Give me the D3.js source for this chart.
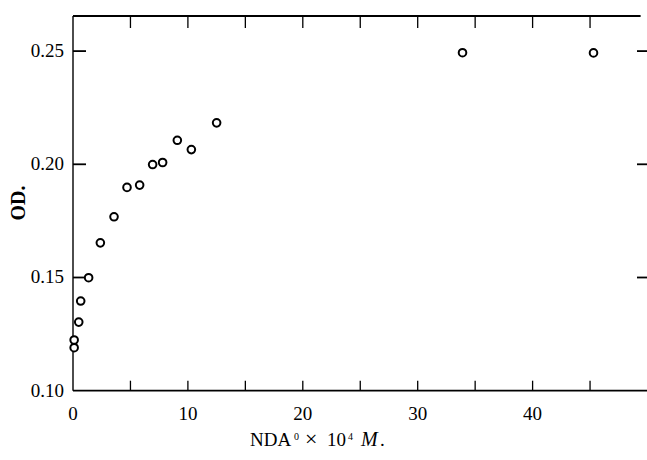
<!DOCTYPE html>
<html>
<head>
<meta charset="utf-8">
<script src="https://cdn.jsdelivr.net/npm/d3@7"></script>
<style>
  body { margin: 0; background: #fff; }
  svg { font-family: "Liberation Serif", "DejaVu Serif", serif; }
</style>
</head>
<body>
<svg id="chart" width="647" height="460"></svg>
<script>
// Data
var ndaConc = [0.1, 0.1, 0.5, 0.67, 1.36, 2.38, 3.57, 4.7, 5.8, 6.93, 7.8, 9.08, 10.3, 12.5, 33.9, 45.3];
var odValues = [0.1224, 0.119, 0.1303, 0.1396, 0.1499, 0.1653, 0.1768, 0.1898, 0.1908, 0.1999, 0.2008, 0.2106, 0.2065, 0.2183, 0.2493, 0.2492];
var xTickLabels = [0, 10, 20, 30, 40];
var xMinorTicks = [5, 10, 15, 20, 25, 30, 35, 40, 45];
var yTickLabels = [0.10, 0.15, 0.20, 0.25];

var svg = d3.select("#chart");

var x = d3.scaleLinear().domain([0, 50]).range([73, 647.5]);
var y = d3.scaleLinear().domain([0.10, 0.2655]).range([390.7, 16]);

var points = ndaConc.map(function (d, i) { return { x: d, y: odValues[i] }; });

// Frame lines: left, top, bottom (no right line)
svg.append("line")
  .attr("x1", x(0)).attr("x2", x(0))
  .attr("y1", y(0.2655)).attr("y2", y(0.10))
  .attr("stroke", "#000").attr("stroke-width", 1.4);

svg.append("line")
  .attr("x1", x(0)).attr("x2", x(49.4))
  .attr("y1", y(0.2655)).attr("y2", y(0.2655))
  .attr("stroke", "#000").attr("stroke-width", 1.8);

svg.append("line")
  .attr("x1", x(0)).attr("x2", x(50))
  .attr("y1", y(0.10)).attr("y2", y(0.10))
  .attr("stroke", "#000").attr("stroke-width", 1.8);

// Bottom ticks (inward) every 5
svg.append("g")
  .selectAll("line")
  .data(xMinorTicks)
  .enter()
  .append("line")
  .attr("x1", function (d) { return x(d); })
  .attr("x2", function (d) { return x(d); })
  .attr("y1", y(0.10))
  .attr("y2", y(0.10) - 10)
  .attr("stroke", "#000").attr("stroke-width", 1.3);

// Top ticks (inward) every 5
svg.append("g")
  .selectAll("line")
  .data(xMinorTicks)
  .enter()
  .append("line")
  .attr("x1", function (d) { return x(d); })
  .attr("x2", function (d) { return x(d); })
  .attr("y1", y(0.2655))
  .attr("y2", y(0.2655) + 12)
  .attr("stroke", "#000").attr("stroke-width", 1.3);

// Left ticks
svg.append("g")
  .selectAll("line")
  .data(yTickLabels.filter(function (d) { return d > 0.1; }))
  .enter()
  .append("line")
  .attr("x1", x(0))
  .attr("x2", x(0) + 13)
  .attr("y1", function (d) { return y(d); })
  .attr("y2", function (d) { return y(d); })
  .attr("stroke", "#000").attr("stroke-width", 1.8);

// Right ticks (no axis line)
svg.append("g")
  .selectAll("line")
  .data(yTickLabels.filter(function (d) { return d > 0.1; }))
  .enter()
  .append("line")
  .attr("x1", 637)
  .attr("x2", 647)
  .attr("y1", function (d) { return y(d); })
  .attr("y2", function (d) { return y(d); })
  .attr("stroke", "#000").attr("stroke-width", 1.8);

// X tick labels
svg.append("g")
  .selectAll("text")
  .data(xTickLabels)
  .enter()
  .append("text")
  .attr("x", function (d) { return x(d); })
  .attr("y", 420)
  .attr("text-anchor", "middle")
  .style("font-size", "19px")
  .text(function (d) { return d; });

// Y tick labels
svg.append("g")
  .selectAll("text")
  .data(yTickLabels)
  .enter()
  .append("text")
  .attr("x", 64)
  .attr("y", function (d) { return y(d) + 6; })
  .attr("text-anchor", "end")
  .style("font-size", "19px")
  .text(function (d) { return d3.format(".2f")(d); });

// Axis titles
svg.append("text")
  .attr("transform", "translate(25, 203) rotate(-90)")
  .attr("text-anchor", "middle")
  .style("font-size", "20px")
  .style("font-weight", "bold")
  .text("OD.");

// x title, pieces placed to match the wide typeset spacing
var xl = svg.append("text")
  .attr("y", 446)
  .style("font-size", "19px");
xl.append("tspan").attr("x", 250).text("NDA");
xl.append("tspan").attr("x", 294).attr("dy", -6).style("font-size", "10px").text("0");
xl.append("tspan").attr("x", 305).attr("dy", 6).style("font-size", "22px").text("\u00d7");
xl.append("tspan").attr("x", 327).text("10");
xl.append("tspan").attr("x", 348).attr("dy", -6).style("font-size", "10px").text("4");
xl.append("tspan").attr("x", 361).attr("dy", 6).style("font-style", "italic").style("font-size", "20px").text("M");
xl.append("tspan").attr("x", 380).text(".");

// Points
svg.append("g")
  .selectAll("circle")
  .data(points)
  .enter()
  .append("circle")
  .attr("cx", function (d) { return x(d.x); })
  .attr("cy", function (d) { return y(d.y); })
  .attr("r", 3.8)
  .attr("fill", "#fff")
  .attr("stroke", "#000")
  .attr("stroke-width", 2);
</script>
</body>
</html>
